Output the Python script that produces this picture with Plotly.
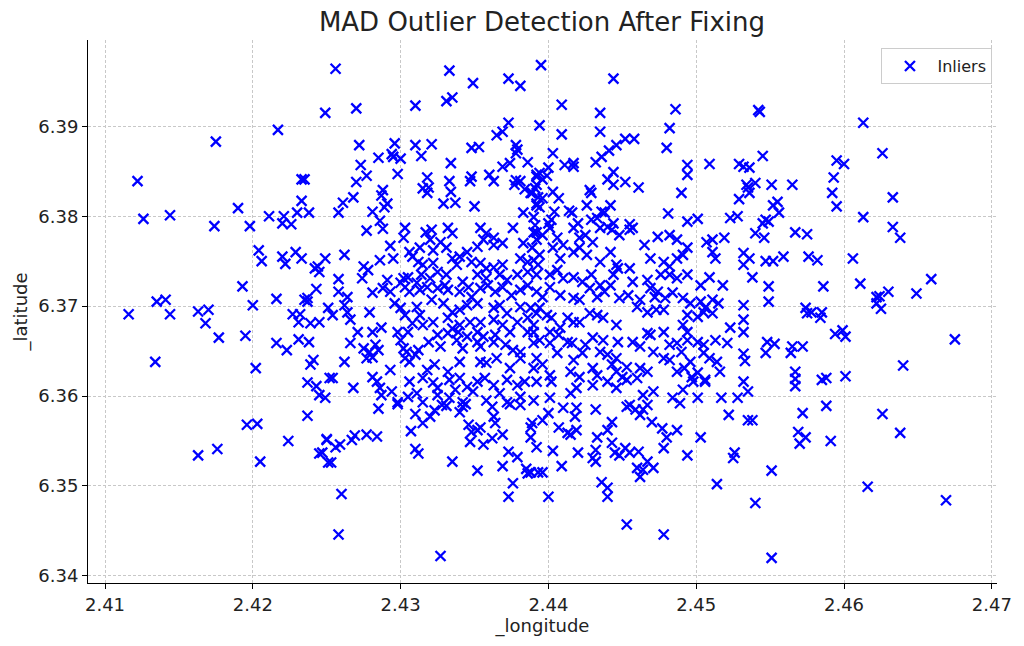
#!/usr/bin/env python3
"""MAD outlier detection after fixing - inlier scatter."""

import plotly.graph_objects as go

# inlier coordinates (lon, lat pairs kept in two lists)
LONGITUDE = [
    2.4249, 2.4217, 2.4175, 2.4122, 2.4233, 2.4235, 2.4233, 2.4190, 2.4144, 2.4126,
    2.4174, 2.4198, 2.4211, 2.4221, 2.4230, 2.4238, 2.4220, 2.4226,
    2.4256, 2.4270, 2.4310, 2.4333, 2.4349, 2.4331, 2.4335, 2.4373, 2.4381, 2.4373,
    2.4365, 2.4369, 2.4272, 2.4296, 2.4310, 2.4321, 2.4285, 2.4294, 2.4295, 2.4300,
    2.4314, 2.4273, 2.4298, 2.4277, 2.4270, 2.4334, 2.4348, 2.4353, 2.4378, 2.4379,
    2.4378, 2.4386, 2.4369, 2.4374, 2.4318, 2.4315, 2.4319, 2.4318, 2.4333, 2.4334,
    2.4348, 2.4347, 2.4360, 2.4363, 2.4378, 2.4381, 2.4377, 2.4384, 2.4388, 2.4392,
    2.4392, 2.4288, 2.4287, 2.4268, 2.4261, 2.4258, 2.4281, 2.4291, 2.4289, 2.4286,
    2.4329, 2.4337, 2.4350, 2.4383, 2.4392, 2.4390,
    2.4395, 2.4444, 2.4409, 2.4435, 2.4486, 2.4394, 2.4409, 2.4435, 2.4482, 2.4480,
    2.4403, 2.4432, 2.4436, 2.4441, 2.4446, 2.4452, 2.4458, 2.4411, 2.4417, 2.4417,
    2.4400, 2.4394, 2.4392, 2.4396, 2.4399, 2.4444, 2.4440, 2.4444, 2.4452, 2.4461,
    2.4494, 2.4494, 2.4509, 2.4529, 2.4532, 2.4535, 2.4529, 2.4490, 2.4391, 2.4389,
    2.4393, 2.4396, 2.4392, 2.4394, 2.4403, 2.4407, 2.4428, 2.4429, 2.4426, 2.4414,
    2.4416, 2.4404, 2.4402, 2.4400, 2.4391, 2.4442, 2.4436, 2.4438, 2.4433, 2.4420,
    2.4429, 2.4481, 2.4501, 2.4494, 2.4523, 2.4528, 2.4444, 2.4455,
    2.4542, 2.4543, 2.4613, 2.4626, 2.4545, 2.4536, 2.4595, 2.4600, 2.4593, 2.4592,
    2.4595, 2.4534, 2.4540, 2.4536, 2.4551, 2.4565, 2.4555, 2.4552, 2.4556, 2.4633,
    2.4613, 2.4547, 2.4549, 2.4545,
    2.4204, 2.4206, 2.4220, 2.4222, 2.4229, 2.4233, 2.4249, 2.4242, 2.4245, 2.4244,
    2.4193, 2.4243, 2.4216, 2.4237, 2.4237, 2.4235, 2.4135, 2.4141, 2.4200, 2.4116,
    2.4144, 2.4163, 2.4170, 2.4168, 2.4227, 2.4232, 2.4231, 2.4239, 2.4245, 2.4251,
    2.4177, 2.4195, 2.4216, 2.4223, 2.4231, 2.4238, 2.4134, 2.4202, 2.4241, 2.4239,
    2.4237, 2.4243, 2.4245, 2.4252,
    2.4277, 2.4288, 2.4303, 2.4317, 2.4321, 2.4332, 2.4335, 2.4354, 2.4358, 2.4363,
    2.4376, 2.4390, 2.4392, 2.4302, 2.4320, 2.4327, 2.4293, 2.4306, 2.4313, 2.4322,
    2.4331, 2.4340, 2.4345, 2.4352, 2.4356, 2.4363, 2.4369, 2.4383, 2.4389, 2.4262,
    2.4286, 2.4295, 2.4275, 2.4278, 2.4308, 2.4312, 2.4315, 2.4322, 2.4335, 2.4338,
    2.4348, 2.4354, 2.4358, 2.4363, 2.4369, 2.4381, 2.4386, 2.4390, 2.4393, 2.4274,
    2.4258, 2.4291, 2.4302, 2.4305, 2.4300, 2.4311, 2.4314, 2.4320, 2.4325, 2.4331,
    2.4342, 2.4352, 2.4358, 2.4367, 2.4372, 2.4379, 2.4386, 2.4392, 2.4258, 2.4264,
    2.4281, 2.4288, 2.4293, 2.4303, 2.4306, 2.4313, 2.4318, 2.4325, 2.4330, 2.4332,
    2.4340, 2.4346, 2.4348, 2.4354, 2.4359, 2.4364, 2.4369, 2.4375, 2.4381, 2.4386,
    2.4392, 2.4254, 2.4262, 2.4264, 2.4279, 2.4296, 2.4300, 2.4303, 2.4311, 2.4313,
    2.4321, 2.4329, 2.4335, 2.4340, 2.4345, 2.4352, 2.4363, 2.4367, 2.4372, 2.4381,
    2.4388, 2.4392, 2.4266, 2.4308, 2.4315, 2.4322, 2.4332, 2.4335, 2.4340, 2.4347,
    2.4354, 2.4363, 2.4369, 2.4379, 2.4386, 2.4390, 2.4271, 2.4281, 2.4287, 2.4298,
    2.4305, 2.4325, 2.4332, 2.4339, 2.4345, 2.4352, 2.4356, 2.4364, 2.4374, 2.4386,
    2.4266, 2.4275, 2.4279, 2.4283, 2.4285, 2.4300, 2.4302, 2.4304, 2.4312, 2.4319,
    2.4327, 2.4338, 2.4342, 2.4352, 2.4354, 2.4363, 2.4371, 2.4376, 2.4381, 2.4390,
    2.4394, 2.4262, 2.4277, 2.4281, 2.4293, 2.4303, 2.4306, 2.4310, 2.4318, 2.4323,
    2.4332, 2.4340, 2.4354, 2.4358, 2.4365, 2.4374, 2.4381, 2.4390, 2.4254, 2.4268,
    2.4281, 2.4284, 2.4286, 2.4306, 2.4315, 2.4322, 2.4325, 2.4333, 2.4340, 2.4345,
    2.4352, 2.4357, 2.4363, 2.4372, 2.4379, 2.4384, 2.4392, 2.4249, 2.4287, 2.4294,
    2.4298, 2.4305, 2.4311, 2.4315, 2.4325, 2.4333, 2.4337, 2.4342, 2.4349, 2.4358,
    2.4367, 2.4372, 2.4381, 2.4390,
    2.4392, 2.4396, 2.4401, 2.4406, 2.4410, 2.4417, 2.4421, 2.4425, 2.4430, 2.4435,
    2.4440, 2.4443, 2.4448, 2.4455, 2.4457, 2.4465, 2.4474, 2.4482, 2.4487, 2.4494,
    2.4507, 2.4511, 2.4519, 2.4511, 2.4513, 2.4394, 2.4403, 2.4408, 2.4417, 2.4421,
    2.4426, 2.4435, 2.4442, 2.4446, 2.4455, 2.4469, 2.4478, 2.4482, 2.4487, 2.4491,
    2.4494, 2.4503, 2.4509, 2.4518, 2.4401, 2.4406, 2.4410, 2.4417, 2.4423, 2.4429,
    2.4435, 2.4444, 2.4447, 2.4457, 2.4467, 2.4476, 2.4482, 2.4487, 2.4396, 2.4401,
    2.4408, 2.4417, 2.4421, 2.4428, 2.4433, 2.4438, 2.4442, 2.4448, 2.4454, 2.4462,
    2.4469, 2.4472, 2.4474, 2.4479, 2.4484, 2.4491, 2.4496, 2.4503, 2.4506, 2.4511,
    2.4515, 2.4394, 2.4399, 2.4402, 2.4413, 2.4417, 2.4421, 2.4428, 2.4433, 2.4437,
    2.4446, 2.4460, 2.4467, 2.4473, 2.4478, 2.4494, 2.4491, 2.4501, 2.4505, 2.4511,
    2.4523, 2.4390, 2.4401, 2.4407, 2.4408, 2.4467, 2.4469, 2.4478, 2.4494, 2.4401,
    2.4413, 2.4416, 2.4425, 2.4430, 2.4437, 2.4447, 2.4457, 2.4462, 2.4471, 2.4482,
    2.4487, 2.4494, 2.4501, 2.4505, 2.4513, 2.4521, 2.4392, 2.4406, 2.4417, 2.4423,
    2.4435, 2.4440, 2.4446, 2.4478, 2.4482, 2.4490, 2.4496, 2.4505, 2.4509, 2.4514,
    2.4396, 2.4401, 2.4415, 2.4421, 2.4430, 2.4433, 2.4443, 2.4446, 2.4450, 2.4453,
    2.4460, 2.4462, 2.4467, 2.4487, 2.4492, 2.4497, 2.4501, 2.4506, 2.4516, 2.4402,
    2.4415, 2.4419, 2.4430, 2.4440, 2.4446, 2.4453, 2.4464, 2.4471, 2.4491, 2.4498,
    2.4506, 2.4484, 2.4501, 2.4517, 2.4528, 2.4401,
    2.4540, 2.4546, 2.4567, 2.4575, 2.4633, 2.4638, 2.4532, 2.4536, 2.4532, 2.4547,
    2.4552, 2.4559, 2.4576, 2.4582, 2.4606, 2.4538, 2.4549, 2.4586, 2.4611, 2.4622,
    2.4624, 2.4630, 2.4622, 2.4625, 2.4649, 2.4659, 2.4549, 2.4532, 2.4574, 2.4575,
    2.4578, 2.4585, 2.4584, 2.4532, 2.4532, 2.4594, 2.4599, 2.4601, 2.4675, 2.4548,
    2.4553, 2.4547, 2.4565, 2.4572, 2.4564, 2.4532, 2.4533, 2.4567, 2.4567, 2.4567,
    2.4585, 2.4588, 2.4601, 2.4640, 2.4532, 2.4535,
    2.4196, 2.4203, 2.4237, 2.4224, 2.4250, 2.4176, 2.4163, 2.4205, 2.4245, 2.4251,
    2.4285, 2.4298, 2.4310, 2.4315, 2.4320, 2.4323, 2.4328, 2.4331, 2.4307, 2.4250,
    2.4256, 2.4259, 2.4267, 2.4269, 2.4277, 2.4284, 2.4247, 2.4253, 2.4310, 2.4312,
    2.4335, 2.4342, 2.4344, 2.4340, 2.4362, 2.4363, 2.4364, 2.4346, 2.4348, 2.4352,
    2.4354, 2.4347, 2.4356, 2.4362, 2.4369, 2.4374, 2.4381, 2.4389, 2.4388, 2.4392,
    2.4373, 2.4379, 2.4369, 2.4385, 2.4386, 2.4393, 2.4352, 2.4376, 2.4373, 2.4260,
    2.4258, 2.4327,
    2.4455, 2.4489, 2.4400, 2.4396, 2.4388, 2.4410, 2.4419, 2.4418, 2.4419, 2.4407,
    2.4413, 2.4415, 2.4432, 2.4443, 2.4440, 2.4433, 2.4453, 2.4459, 2.4462, 2.4464,
    2.4467, 2.4470, 2.4477, 2.4480, 2.4487, 2.4478, 2.4503, 2.4522, 2.4535, 2.4403,
    2.4420, 2.4430, 2.4432, 2.4432, 2.4443, 2.4445, 2.4448, 2.4452, 2.4455, 2.4461,
    2.4409, 2.4396, 2.4388, 2.4460, 2.4464, 2.4462, 2.4467, 2.4471, 2.4494, 2.4526,
    2.4525, 2.4436, 2.4440, 2.4440, 2.4514, 2.4400, 2.4453, 2.4478,
    2.4538, 2.4572, 2.4588, 2.4569, 2.4574, 2.4570, 2.4591, 2.4551, 2.4626, 2.4638,
    2.4616, 2.4669, 2.4540, 2.4551,
]

LATITUDE = [
    6.3915, 6.3896, 6.3883, 6.3839, 6.3841, 6.3841, 6.3817, 6.3809, 6.3801, 6.3797,
    6.3789, 6.3789, 6.3800, 6.3800, 6.3804, 6.3804, 6.3792, 6.3791,
    6.3964, 6.3920, 6.3923, 6.3962, 6.3948, 6.3928, 6.3932, 6.3953, 6.3945, 6.3904,
    6.3890, 6.3894, 6.3879, 6.3881, 6.3879, 6.3880, 6.3865, 6.3869, 6.3866, 6.3864,
    6.3867, 6.3857, 6.3847, 6.3845, 6.3838, 6.3859, 6.3876, 6.3877, 6.3879, 6.3874,
    6.3870, 6.3860, 6.3855, 6.3859, 6.3843, 6.3831, 6.3832, 6.3826, 6.3839, 6.3827,
    6.3844, 6.3839, 6.3846, 6.3839, 6.3840, 6.3839, 6.3835, 6.3830, 6.3826, 6.3846,
    6.3835, 6.3829, 6.3823, 6.3821, 6.3815, 6.3804, 6.3805, 6.3814, 6.3810, 6.3795,
    6.3814, 6.3815, 6.3811, 6.3804, 6.3812, 6.3799,
    6.3968, 6.3953, 6.3924, 6.3915, 6.3919, 6.3901, 6.3891, 6.3894, 6.3898, 6.3876,
    6.3870, 6.3860, 6.3866, 6.3873, 6.3879, 6.3886, 6.3886, 6.3857, 6.3855, 6.3859,
    6.3854, 6.3848, 6.3844, 6.3841, 6.3845, 6.3849, 6.3841, 6.3835, 6.3838, 6.3832,
    6.3857, 6.3846, 6.3858, 6.3858, 6.3855, 6.3832, 6.3819, 6.3826, 6.3831, 6.3826,
    6.3821, 6.3820, 6.3814, 6.3810, 6.3827, 6.3820, 6.3829, 6.3826, 6.3812, 6.3806,
    6.3804, 6.3805, 6.3796, 6.3792, 6.3790, 6.3812, 6.3805, 6.3804, 6.3798, 6.3792,
    6.3796, 6.3803, 6.3797, 6.3794, 6.3798, 6.3800, 6.3792, 6.3791,
    6.3918, 6.3916, 6.3904, 6.3870, 6.3867, 6.3854, 6.3862, 6.3858, 6.3843, 6.3826,
    6.3811, 6.3835, 6.3837, 6.3826, 6.3835, 6.3835, 6.3816, 6.3812, 6.3804, 6.3821,
    6.3799, 6.3796, 6.3794, 6.3792,
    6.3762, 6.3750, 6.3755, 6.3747, 6.3760, 6.3753, 6.3753, 6.3742, 6.3738, 6.3744,
    6.3722, 6.3719, 6.3708, 6.3709, 6.3705, 6.3707, 6.3705, 6.3707, 6.3701, 6.3691,
    6.3691, 6.3694, 6.3696, 6.3681, 6.3691, 6.3691, 6.3682, 6.3681, 6.3682, 6.3698,
    6.3665, 6.3667, 6.3659, 6.3651, 6.3663, 6.3660, 6.3638, 6.3631, 6.3640, 6.3635,
    6.3615, 6.3611, 6.3601, 6.3620,
    6.3784, 6.3786, 6.3787, 6.3782, 6.3785, 6.3787, 6.3781, 6.3787, 6.3781, 6.3776,
    6.3787, 6.3782, 6.3774, 6.3776, 6.3774, 6.3771, 6.3767, 6.3760, 6.3765, 6.3762,
    6.3765, 6.3755, 6.3760, 6.3766, 6.3774, 6.3768, 6.3770, 6.3770, 6.3765, 6.3757,
    6.3751, 6.3753, 6.3744, 6.3740, 6.3755, 6.3749, 6.3746, 6.3748, 6.3753, 6.3746,
    6.3749, 6.3748, 6.3742, 6.3743, 6.3746, 6.3753, 6.3749, 6.3751, 6.3746, 6.3731,
    6.3730, 6.3729, 6.3731, 6.3732, 6.3726, 6.3726, 6.3735, 6.3731, 6.3738, 6.3735,
    6.3727, 6.3735, 6.3731, 6.3735, 6.3729, 6.3735, 6.3738, 6.3735, 6.3716, 6.3710,
    6.3715, 6.3720, 6.3716, 6.3721, 6.3716, 6.3718, 6.3721, 6.3720, 6.3723, 6.3718,
    6.3716, 6.3721, 6.3710, 6.3720, 6.3723, 6.3716, 6.3721, 6.3712, 6.3718, 6.3723,
    6.3716, 6.3690, 6.3701, 6.3693, 6.3693, 6.3703, 6.3698, 6.3690, 6.3699, 6.3690,
    6.3707, 6.3703, 6.3693, 6.3696, 6.3701, 6.3703, 6.3698, 6.3701, 6.3692, 6.3699,
    6.3698, 6.3692, 6.3685, 6.3681, 6.3679, 6.3682, 6.3687, 6.3675, 6.3679, 6.3682,
    6.3682, 6.3685, 6.3679, 6.3682, 6.3687, 6.3679, 6.3671, 6.3671, 6.3676, 6.3671,
    6.3671, 6.3668, 6.3670, 6.3671, 6.3666, 6.3671, 6.3666, 6.3668, 6.3671, 6.3671,
    6.3659, 6.3653, 6.3649, 6.3657, 6.3651, 6.3662, 6.3653, 6.3649, 6.3651, 6.3660,
    6.3655, 6.3662, 6.3653, 6.3660, 6.3655, 6.3660, 6.3657, 6.3651, 6.3649, 6.3659,
    6.3662, 6.3638, 6.3642, 6.3643, 6.3629, 6.3642, 6.3638, 6.3646, 6.3629, 6.3635,
    6.3627, 6.3638, 6.3638, 6.3637, 6.3642, 6.3631, 6.3642, 6.3631, 6.3620, 6.3609,
    6.3621, 6.3616, 6.3609, 6.3616, 6.3620, 6.3615, 6.3609, 6.3618, 6.3620, 6.3610,
    6.3616, 6.3620, 6.3612, 6.3618, 6.3612, 6.3616, 6.3616, 6.3598, 6.3601, 6.3605,
    6.3593, 6.3599, 6.3603, 6.3593, 6.3601, 6.3598, 6.3607, 6.3593, 6.3605, 6.3595,
    6.3603, 6.3593, 6.3599, 6.3595,
    6.3782, 6.3779, 6.3787, 6.3776, 6.3768, 6.3787, 6.3776, 6.3779, 6.3771, 6.3787,
    6.3788, 6.3785, 6.3779, 6.3785, 6.3787, 6.3768, 6.3777, 6.3779, 6.3774, 6.3765,
    6.3771, 6.3774, 6.3776, 6.3760, 6.3753, 6.3757, 6.3765, 6.3753, 6.3760, 6.3765,
    6.3757, 6.3749, 6.3760, 6.3746, 6.3742, 6.3753, 6.3749, 6.3744, 6.3753, 6.3757,
    6.3735, 6.3723, 6.3732, 6.3723, 6.3735, 6.3740, 6.3731, 6.3732, 6.3727, 6.3735,
    6.3723, 6.3735, 6.3742, 6.3727, 6.3729, 6.3735, 6.3735, 6.3731, 6.3710, 6.3721,
    6.3712, 6.3709, 6.3707, 6.3720, 6.3710, 6.3716, 6.3723, 6.3709, 6.3712, 6.3707,
    6.3720, 6.3710, 6.3716, 6.3709, 6.3715, 6.3709, 6.3703, 6.3705, 6.3698, 6.3707,
    6.3703, 6.3698, 6.3690, 6.3687, 6.3687, 6.3682, 6.3682, 6.3692, 6.3690, 6.3687,
    6.3679, 6.3699, 6.3693, 6.3696, 6.3696, 6.3690, 6.3679, 6.3688, 6.3693, 6.3692,
    6.3676, 6.3671, 6.3671, 6.3668, 6.3676, 6.3670, 6.3668, 6.3671, 6.3671, 6.3659,
    6.3660, 6.3659, 6.3657, 6.3665, 6.3662, 6.3660, 6.3660, 6.3655, 6.3649, 6.3657,
    6.3659, 6.3662, 6.3660, 6.3657, 6.3662, 6.3659, 6.3642, 6.3648, 6.3640, 6.3648,
    6.3649, 6.3646, 6.3642, 6.3642, 6.3640, 6.3649, 6.3638, 6.3648, 6.3642, 6.3638,
    6.3635, 6.3623, 6.3627, 6.3621, 6.3631, 6.3623, 6.3635, 6.3627, 6.3621, 6.3632,
    6.3620, 6.3631, 6.3627, 6.3627, 6.3631, 6.3621, 6.3626, 6.3618, 6.3627, 6.3616,
    6.3603, 6.3609, 6.3612, 6.3616, 6.3609, 6.3618, 6.3601, 6.3605, 6.3607, 6.3616,
    6.3616, 6.3598, 6.3598, 6.3598, 6.3598, 6.3598,
    6.3781, 6.3776, 6.3782, 6.3780, 6.3788, 6.3776, 6.3759, 6.3753, 6.3746, 6.3750,
    6.3750, 6.3755, 6.3755, 6.3751, 6.3753, 6.3732, 6.3722, 6.3722, 6.3725, 6.3710,
    6.3711, 6.3716, 6.3703, 6.3697, 6.3714, 6.3730, 6.3705, 6.3701, 6.3698, 6.3692,
    6.3693, 6.3693, 6.3687, 6.3685, 6.3671, 6.3669, 6.3673, 6.3666, 6.3663, 6.3660,
    6.3658, 6.3648, 6.3655, 6.3655, 6.3648, 6.3647, 6.3639, 6.3627, 6.3619, 6.3611,
    6.3618, 6.3620, 6.3622, 6.3634, 6.3616, 6.3605,
    6.3568, 6.3569, 6.3578, 6.3550, 6.3552, 6.3541, 6.3534, 6.3527, 6.3536, 6.3526,
    6.3586, 6.3591, 6.3580, 6.3570, 6.3577, 6.3584, 6.3590, 6.3589, 6.3561, 6.3551,
    6.3543, 6.3546, 6.3551, 6.3556, 6.3557, 6.3555, 6.3537, 6.3526, 6.3541, 6.3536,
    6.3527, 6.3588, 6.3591, 6.3582, 6.3588, 6.3577, 6.3570, 6.3568, 6.3560, 6.3562,
    6.3565, 6.3549, 6.3546, 6.3553, 6.3557, 6.3591, 6.3590, 6.3570, 6.3554, 6.3543,
    6.3538, 6.3532, 6.3522, 6.3519, 6.3514, 6.3515, 6.3517, 6.3503, 6.3488, 6.3491,
    6.3446, 6.3422,
    6.3590, 6.3592, 6.3581, 6.3573, 6.3565, 6.3587, 6.3587, 6.3577, 6.3562, 6.3565,
    6.3559, 6.3557, 6.3585, 6.3571, 6.3562, 6.3554, 6.3588, 6.3585, 6.3579, 6.3585,
    6.3590, 6.3571, 6.3564, 6.3554, 6.3562, 6.3542, 6.3554, 6.3579, 6.3573, 6.3539,
    6.3537, 6.3531, 6.3540, 6.3527, 6.3548, 6.3537, 6.3534, 6.3542, 6.3537, 6.3538,
    6.3522, 6.3515, 6.3515, 6.3520, 6.3518, 6.3510, 6.3527, 6.3520, 6.3534, 6.3537,
    6.3531, 6.3504, 6.3498, 6.3488, 6.3502, 6.3488, 6.3457, 6.3446,
    6.3573, 6.3581, 6.3589, 6.3560, 6.3554, 6.3547, 6.3550, 6.3517, 6.3580, 6.3559,
    6.3499, 6.3484, 6.3481, 6.3420,
]

X_TICKS = [2.41, 2.42, 2.43, 2.44, 2.45, 2.46, 2.47]
Y_TICKS = [6.34, 6.35, 6.36, 6.37, 6.38, 6.39]

FONT = "DejaVu Sans"


def main():
    n = min(len(LONGITUDE), len(LATITUDE))
    fig = go.Figure()
    fig.add_trace(go.Scatter(
        x=LONGITUDE[:n],
        y=LATITUDE[:n],
        mode="markers",
        name="Inliers",
        marker=dict(symbol="x-thin", size=10, color="#0000ff",
                    line=dict(color="#0000ff", width=2.3)),
    ))

    axis_common = dict(
        showline=True, linecolor="black", linewidth=1,
        ticks="outside", ticklen=5, tickcolor="black", tickwidth=1,
        showgrid=True, gridcolor="#c8c8c8", griddash="3px,2px", gridwidth=0.8,
        zeroline=False, mirror=False,
        tickfont=dict(family=FONT, size=18, color="#222222"),
        title_font=dict(family=FONT, size=18, color="#222222"),
        tickformat=".2f",
    )
    fig.update_xaxes(
        range=[2.40885, 2.47035], tickvals=X_TICKS,
        title_text="_longitude", title_standoff=2, **axis_common,
    )
    fig.update_yaxes(
        range=[6.3392, 6.3996], tickvals=Y_TICKS,
        title_text="_latitude", title_standoff=6, **axis_common,
    )

    # the page body adds an 8px offset, so margins are shifted to compensate
    fig.update_layout(
        width=1024, height=646,
        margin=dict(l=80, r=35, t=32, b=71),
        plot_bgcolor="white", paper_bgcolor="white",
        font=dict(family=FONT, color="#222222"),
        title=dict(text="MAD Outlier Detection After Fixing", x=(542 - 8) / 1024,
                   xanchor="center", y=1 - 14 / 646, yanchor="middle",
                   font=dict(family=FONT, size=26, color="#222222")),
        showlegend=True,
        legend=dict(x=0.995, y=0.985, xanchor="right", yanchor="top",
                    itemwidth=45,
                    bgcolor="white", bordercolor="#cccccc", borderwidth=1,
                    font=dict(family=FONT, size=16)),
    )

    fig.write_html("out.html")


if __name__ == "__main__":
    main()
